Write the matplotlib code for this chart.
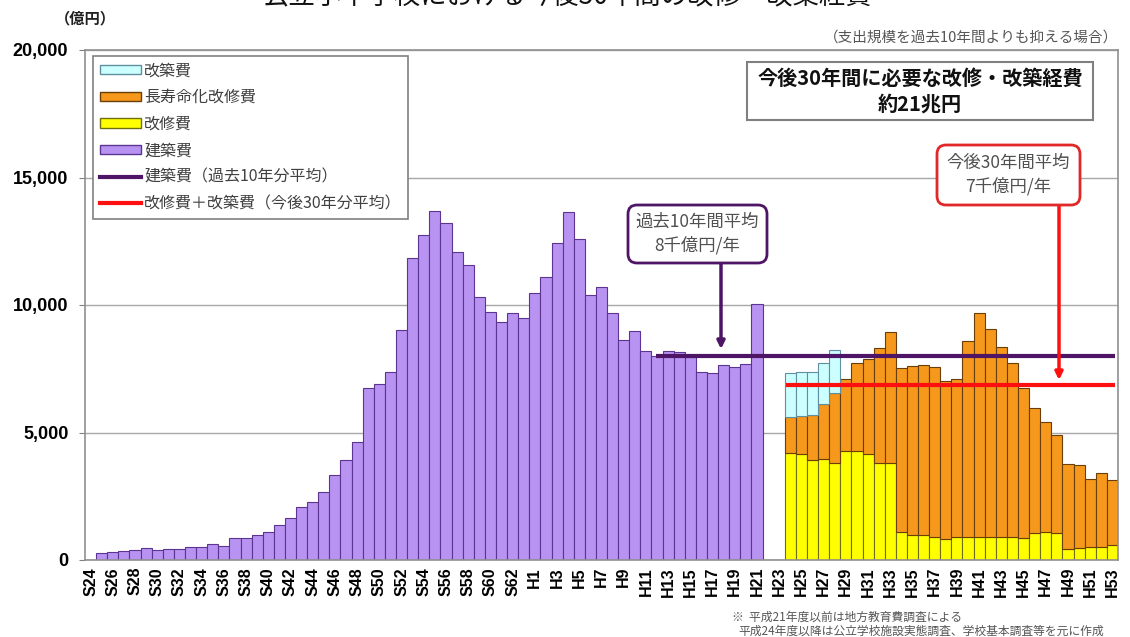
import matplotlib.pyplot as plt
from matplotlib.patches import Patch, FancyBboxPatch
from matplotlib.lines import Line2D
from matplotlib.transforms import IdentityTransform
import numpy as np

plt.rcParams['font.family'] = ['Noto Sans CJK JP', 'DejaVu Sans']

W, H = 1130, 637

# one slot per fiscal year: slot 0 = S24 (1949) ... slot 92 = H53 (2041)
first_year = 1949
last_year = 2041
future_first_year = 2012  # H24

tick_labels = ['S24', 'S26', 'S28', 'S30', 'S32', 'S34', 'S36', 'S38', 'S40', 'S42',
               'S44', 'S46', 'S48', 'S50', 'S52', 'S54', 'S56', 'S58', 'S60', 'S62',
               'H1', 'H3', 'H5', 'H7', 'H9', 'H11', 'H13', 'H15', 'H17', 'H19',
               'H21', 'H23', 'H25', 'H27', 'H29', 'H31', 'H33', 'H35', 'H37', 'H39',
               'H41', 'H43', 'H45', 'H47', 'H49', 'H51', 'H53']

# 建築費 (億円) S24 - H21
kenchiku = [0, 260, 330, 370, 390, 460, 390, 430, 430, 520, 520, 630, 560, 850, 880,
            980, 1110, 1370, 1630, 2090, 2290, 2680, 3330, 3920, 4640,
            6730, 6900, 7390, 9020, 11830, 12750, 13700,
            13200, 12090, 11570, 10330, 9740, 9350, 9700, 9500, 10480, 11090, 12440, 13660, 12580,
            10390, 10720, 9670, 8630, 8990, 8210, 8010, 8210, 8170, 7970, 7390, 7350, 7650, 7560, 7700, 10040]

# 今後30年 (H24 - H53)
kaishu = [4180, 4160, 3920, 3950, 3790, 4290, 4290, 4160, 3820, 3790,
          1110, 980, 980, 890, 810, 920, 920, 920, 920, 920,
          890, 850, 1050, 1110, 1050, 420, 460, 500, 520, 590]
choju = [1440, 1490, 1770, 2170, 2750, 2800, 3420, 3710, 4480, 5160,
         6410, 6630, 6670, 6670, 6220, 6170, 7680, 8780, 8120, 7420,
         6850, 5880, 4900, 4310, 3850, 3340, 3270, 2660, 2880, 2550]
kaichiku = [1730, 1740, 1700, 1610, 1690, 0, 0, 0, 0, 0,
            0, 0, 0, 0, 0, 0, 0, 0, 0, 0,
            0, 0, 0, 0, 0, 0, 0, 0, 0, 0]

kenchiku = np.array(kenchiku)
kaishu = np.array(kaishu)
choju = np.array(choju)
kaichiku = np.array(kaichiku)

c_ken = '#B893F2'
c_kaishu = '#FFFF00'
c_choju = '#F5981C'
c_kaichiku = '#CCFFFF'
c_pline = '#4E1566'
c_rline = '#FF1010'

fig = plt.figure(figsize=(W / 100, H / 100), dpi=100)
ax = fig.add_axes([85 / W, 1 - 560 / H, (1118 - 85) / W, 510 / H])

past_x = np.arange(len(kenchiku))
fut_x = np.arange(len(kaishu)) + (future_first_year - first_year)

ax.bar(past_x, kenchiku, width=1.0, color=c_ken, edgecolor='#5B3590', linewidth=0.8, zorder=2)
ax.bar(fut_x, kaishu, width=1.0, color=c_kaishu, edgecolor='#6F6F10', linewidth=0.8, zorder=2)
ax.bar(fut_x, choju, bottom=kaishu, width=1.0, color=c_choju, edgecolor='#6A3E08',
       linewidth=0.8, zorder=2)
has_kc = kaichiku > 0
ax.bar(fut_x[has_kc], kaichiku[has_kc], bottom=(kaishu + choju)[has_kc], width=1.0,
       color=c_kaichiku, edgecolor='#5F8FA0', linewidth=0.8, zorder=2)

# averages
past_avg = kenchiku[-10:].mean()
fut_avg = (kaishu + choju + kaichiku).mean()
ax.hlines(past_avg, len(kenchiku) - 10.1, len(past_x) + 31.2, color=c_pline, lw=3, zorder=4)
ax.hlines(fut_avg, fut_x[0] - 0.4, fut_x[-1] + 0.2, color=c_rline, lw=3, zorder=4)

ax.set_xlim(-0.5, last_year - first_year + 0.5)
ax.set_ylim(0, 20000)
ax.set_yticks([0, 5000, 10000, 15000, 20000])
ax.set_yticklabels(['0', '5,000', '10,000', '15,000', '20,000'],
                   fontfamily='Liberation Sans', fontweight='bold', fontsize=13)
ax.set_xticks(np.arange(0, last_year - first_year + 1, 2))
ax.set_xticklabels(tick_labels, rotation=90, fontfamily='Liberation Sans',
                   fontweight='bold', fontsize=11.5)
ax.tick_params(axis='y', length=4, color='#808080', pad=8)
ax.tick_params(axis='x', length=0, pad=5)
ax.yaxis.grid(True, color='#A8A8A8', lw=1)
ax.set_axisbelow(True)
for s in ax.spines.values():
    s.set_color('#909090')
    s.set_linewidth(1.2)

handles = [Patch(facecolor=c_kaichiku, edgecolor='#5F8FA0', label='改築費'),
           Patch(facecolor=c_choju, edgecolor='#6A3E08', label='長寿命化改修費'),
           Patch(facecolor=c_kaishu, edgecolor='#6F6F10', label='改修費'),
           Patch(facecolor=c_ken, edgecolor='#5B3590', label='建築費'),
           Line2D([], [], color=c_pline, lw=3, label='建築費（過去10年分平均）'),
           Line2D([], [], color=c_rline, lw=3, label='改修費＋改築費（今後30年分平均）')]
leg = ax.legend(handles=handles, loc='upper left', bbox_to_anchor=(0.008, 0.988),
                borderaxespad=0, fancybox=False, edgecolor='#808080', fontsize=11.5,
                handlelength=2.6, handleheight=0.5, labelspacing=0.6, borderpad=0.4,
                handletextpad=0.2, labelcolor='#404040', framealpha=1)
leg.get_frame().set_linewidth(1.2)
leg.set_zorder(6)


def fx(x):
    return x / W


def fy(y):
    return 1 - y / H


def box(x0, y0, x1, y1, ec, style, lw):
    p = FancyBboxPatch((x0, H - y1), x1 - x0, y1 - y0, boxstyle=style, fc='white',
                       ec=ec, lw=lw, transform=IdentityTransform(), zorder=7)
    fig.add_artist(p)


# total cost box
box(747, 62, 1093, 120, '#808080', 'square,pad=0', 1.5)
fig.text(fx(920), fy(91), '今後30年間に必要な改修・改築経費\n約21兆円', ha='center', va='center',
         fontsize=14.5, fontweight='bold', color='#111111', linespacing=1.3, zorder=8)

# past average callout
ax.annotate('', xy=(fx(721), fy(349)), xytext=(fx(721), fy(262)), xycoords='figure fraction',
            textcoords='figure fraction',
            arrowprops=dict(arrowstyle='-|>', color=c_pline, lw=2.5, mutation_scale=11,
                            shrinkA=0, shrinkB=0), zorder=5)
box(628, 205, 767, 263, c_pline, 'round,pad=0,rounding_size=9', 2)
fig.text(fx(697), fy(234), '過去10年間平均\n8千億円/年', ha='center', va='center',
         fontsize=12.5, color='#505050', linespacing=1.35, zorder=8)

# future average callout
ax.annotate('', xy=(fx(1059), fy(380)), xytext=(fx(1059), fy(204)), xycoords='figure fraction',
            textcoords='figure fraction',
            arrowprops=dict(arrowstyle='-|>', color=c_rline, lw=2.5, mutation_scale=11,
                            shrinkA=0, shrinkB=0), zorder=5)
box(937, 145, 1080, 205, '#E02828', 'round,pad=0,rounding_size=9', 2)
fig.text(fx(1008), fy(175), '今後30年間平均\n7千億円/年', ha='center', va='center',
         fontsize=12.5, color='#505050', linespacing=1.35, zorder=8)

# headings and notes
fig.text(0.502, 1 + 4 / H, '公立小中学校における今後30年間の改修・改築経費', ha='center',
         va='center', fontsize=19, color='#111111')
fig.text(fx(85), fy(18), '（億円）', ha='center', va='center', fontsize=11,
         fontweight='bold', color='#222222')
fig.text(fx(1118), fy(38), '（支出規模を過去10年間よりも抑える場合）', ha='right', va='center',
         fontsize=10.5, color='#555555')
fig.text(fx(732), fy(617), '※  平成21年度以前は地方教育費調査による', ha='left', va='center',
         fontsize=8.5, color='#555555')
fig.text(fx(738), fy(631), '平成24年度以降は公立学校施設実態調査、学校基本調査等を元に作成',
         ha='left', va='center', fontsize=8.5, color='#555555')

fig.savefig('out.png', dpi=100)
